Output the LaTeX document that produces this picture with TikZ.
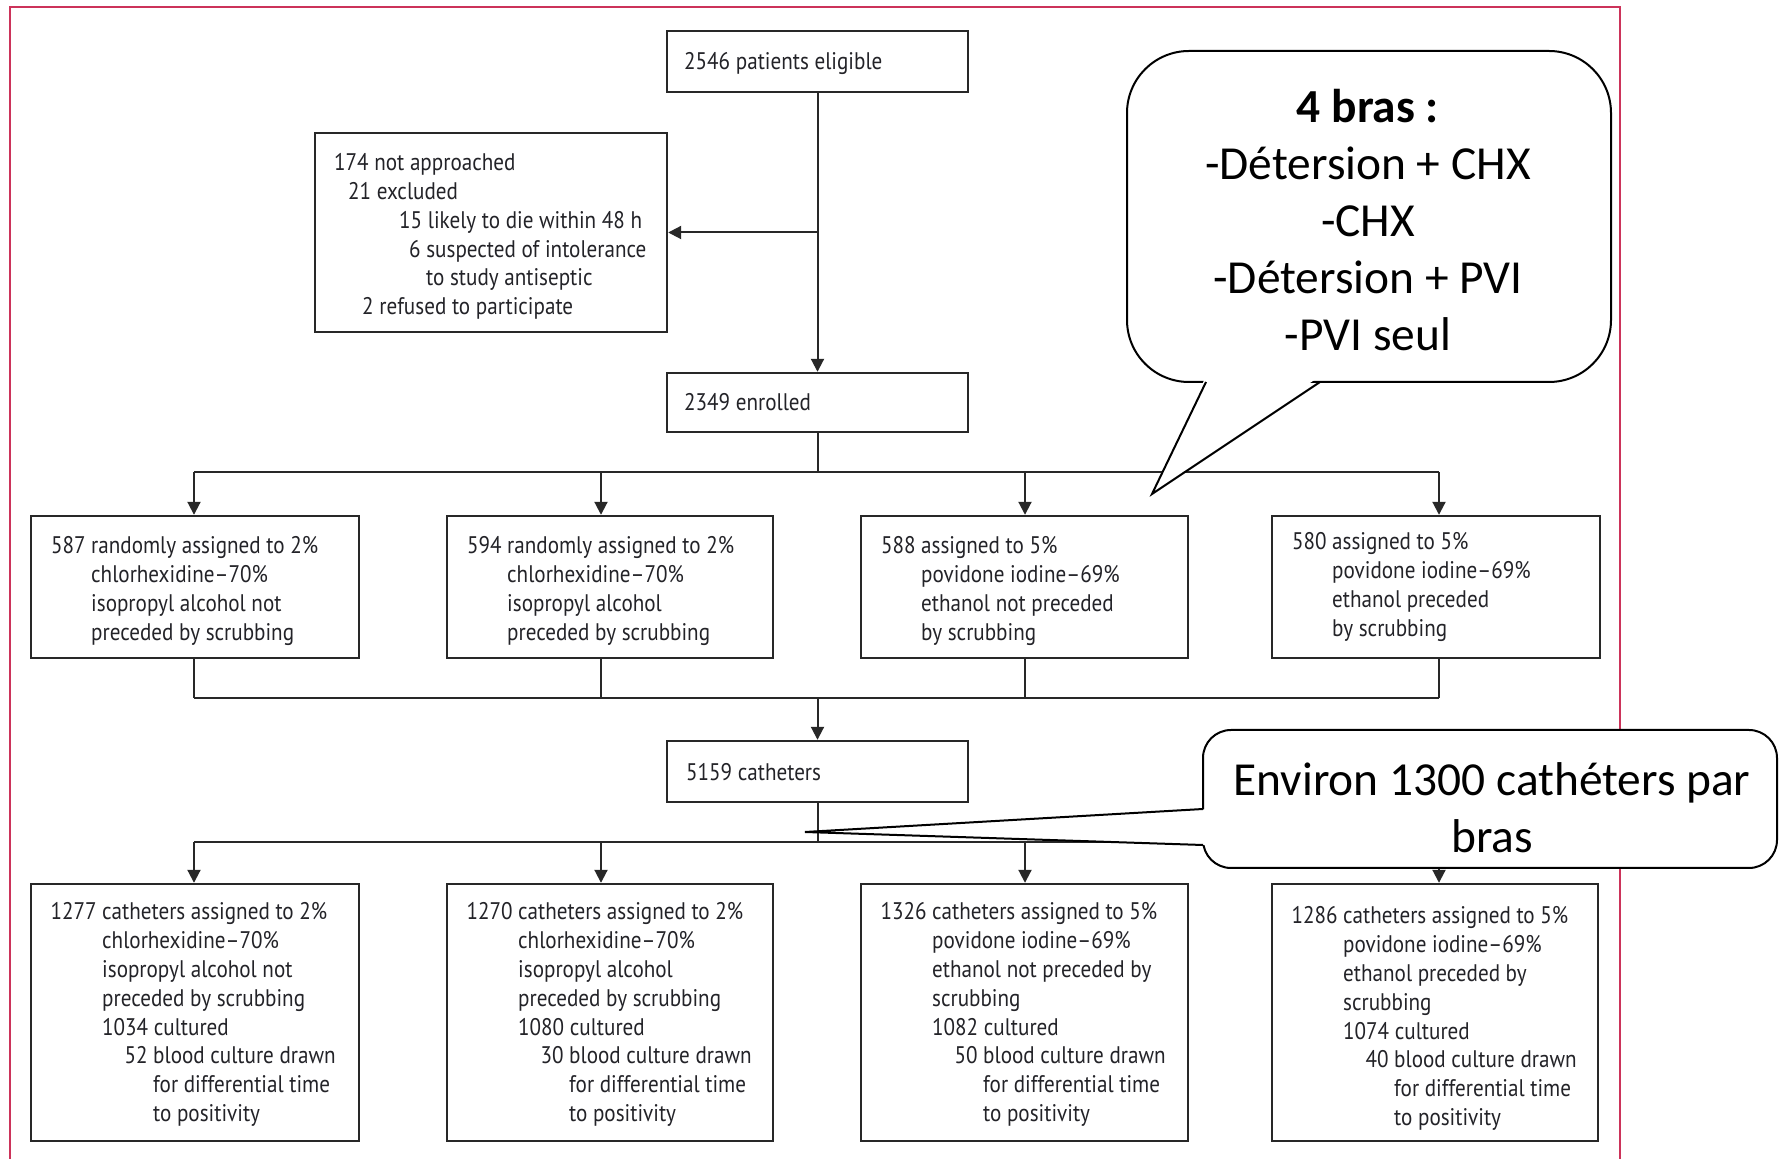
\documentclass[tikz,border=0pt]{standalone}
\usepackage{fontspec}
\setmainfont{PT Sans}
\newfontfamily\lancet[FakeStretch=0.88]{PT Sans}
\newfontfamily\calib{Carlito}
\usetikzlibrary{arrows.meta}
\definecolor{framecol}{RGB}{204,51,90}
\definecolor{boxtext}{RGB}{35,35,40}
\definecolor{boxline}{RGB}{40,40,40}
\newcommand\hangnum[1]{\llap{#1\ }}
\begin{document}
\begin{tikzpicture}[x=0.5pt,y=-0.5pt,
  flowbox/.style={draw=boxline, line width=1.2pt, fill=white, rectangle, inner sep=0pt},
  boxtxt/.style={align=left, inner sep=0pt, anchor=west, text=boxtext,
    font=\lancet\fontsize{12}{14.45}\selectfont},
  conn/.style={draw=boxline, line width=1pt},
  arr/.style={conn, -{Triangle[width=6.5pt,length=6.5pt]}},
  bubble/.style={draw=black, line width=1pt, fill=white, rectangle},
  bubbletext/.style={font=\calib\fontsize{23.7}{28.5}\selectfont, align=center, text=black, inner sep=0pt}
]
\useasboundingbox (0,0) rectangle (1779,1159);
\fill[white] (0,0) rectangle (1779,1159);
% red frame
\draw[framecol, line width=1.3pt] (10,7) rectangle (1620,1185);

% boxes
\node[flowbox, minimum width=150.5pt, minimum height=30.5pt] (top) at (817.5,61.5) {};
\node[boxtxt] (topt) at ([xshift=9pt,yshift=-1pt]top.west) {2546 patients eligible};

\node[flowbox, minimum width=176pt, minimum height=99.5pt] (excl) at (491,232.5) {};
\node[boxtxt] (exclt) at ([xshift=10pt,yshift=-2pt]excl.west) {174 not approached\\
\hspace*{7pt}21 excluded\\
\hspace*{32.5pt}15 likely to die within 48 h\\
\hspace*{37.5pt}6 suspected of intolerance\\
\hspace*{46pt}to study antiseptic\\
\hspace*{14pt}2 refused to participate};

\node[flowbox, minimum width=150.5pt, minimum height=29.5pt] (enr) at (817.5,402.5) {};
\node[boxtxt] (enrt) at ([xshift=9pt]enr.west) {2349 enrolled};

% row 2
\node[flowbox, minimum width=164pt, minimum height=71pt] (a1) at (195,587) {};
\node[flowbox, minimum width=163pt, minimum height=71pt] (a2) at (610,587) {};
\node[flowbox, minimum width=163.5pt, minimum height=71pt] (a3) at (1024.5,587) {};
\node[flowbox, minimum width=164pt, minimum height=71pt] (a4) at (1436,587) {};
\node[boxtxt] (a1t) at ([xshift=10pt,yshift=-2pt]a1.west) {\hspace*{20.5pt}\hangnum{587}randomly assigned to 2\%\\
\hspace*{20.5pt}chlorhexidine–70\%\\
\hspace*{20.5pt}isopropyl alcohol not\\
\hspace*{20.5pt}preceded by scrubbing};
\node[boxtxt] (a2t) at ([xshift=10pt,yshift=-2pt]a2.west) {\hspace*{20.5pt}\hangnum{594}randomly assigned to 2\%\\
\hspace*{20.5pt}chlorhexidine–70\%\\
\hspace*{20.5pt}isopropyl alcohol\\
\hspace*{20.5pt}preceded by scrubbing};
\node[boxtxt] (a3t) at ([xshift=10pt,yshift=-2pt]a3.west) {\hspace*{20.5pt}\hangnum{588}assigned to 5\%\\
\hspace*{20.5pt}povidone iodine–69\%\\
\hspace*{20.5pt}ethanol not preceded\\
\hspace*{20.5pt}by scrubbing};
\node[boxtxt] (a4t) at ([xshift=10pt,yshift=0pt]a4.west) {\hspace*{20.5pt}\hangnum{580}assigned to 5\%\\
\hspace*{20.5pt}povidone iodine–69\%\\
\hspace*{20.5pt}ethanol preceded\\
\hspace*{20.5pt}by scrubbing};

\node[flowbox, minimum width=150.5pt, minimum height=30.5pt] (cat) at (817.5,771.5) {};
\node[boxtxt] (catt) at ([xshift=10pt,yshift=-0.5pt]cat.west) {5159 catheters};

% row 3
\node[flowbox, minimum width=164pt, minimum height=128.5pt] (c1) at (195,1012.5) {};
\node[flowbox, minimum width=163pt, minimum height=128.5pt] (c2) at (610,1012.5) {};
\node[flowbox, minimum width=163.5pt, minimum height=128.5pt] (c3) at (1024.5,1012.5) {};
\node[flowbox, minimum width=163pt, minimum height=128.5pt] (c4) at (1435,1012.5) {};
\node[boxtxt] (c1t) at ([xshift=10pt,yshift=-1pt]c1.west) {\hspace*{26pt}\hangnum{1277}catheters assigned to 2\%\\
\hspace*{26pt}chlorhexidine–70\%\\
\hspace*{26pt}isopropyl alcohol not\\
\hspace*{26pt}preceded by scrubbing\\
\hspace*{26pt}1034 cultured\\
\hspace*{51.5pt}\hangnum{52}blood culture drawn\\
\hspace*{51.5pt}for differential time\\
\hspace*{51.5pt}to positivity};
\node[boxtxt] (c2t) at ([xshift=10pt,yshift=-1pt]c2.west) {\hspace*{26pt}\hangnum{1270}catheters assigned to 2\%\\
\hspace*{26pt}chlorhexidine–70\%\\
\hspace*{26pt}isopropyl alcohol\\
\hspace*{26pt}preceded by scrubbing\\
\hspace*{26pt}1080 cultured\\
\hspace*{51.5pt}\hangnum{30}blood culture drawn\\
\hspace*{51.5pt}for differential time\\
\hspace*{51.5pt}to positivity};
\node[boxtxt] (c3t) at ([xshift=10pt,yshift=-1pt]c3.west) {\hspace*{26pt}\hangnum{1326}catheters assigned to 5\%\\
\hspace*{26pt}povidone iodine–69\%\\
\hspace*{26pt}ethanol not preceded by\\
\hspace*{26pt}scrubbing\\
\hspace*{26pt}1082 cultured\\
\hspace*{51.5pt}\hangnum{50}blood culture drawn\\
\hspace*{51.5pt}for differential time\\
\hspace*{51.5pt}to positivity};
\node[boxtxt] (c4t) at ([xshift=10pt,yshift=-3pt]c4.west) {\hspace*{26pt}\hangnum{1286}catheters assigned to 5\%\\
\hspace*{26pt}povidone iodine–69\%\\
\hspace*{26pt}ethanol preceded by\\
\hspace*{26pt}scrubbing\\
\hspace*{26pt}1074 cultured\\
\hspace*{51.5pt}\hangnum{40}blood culture drawn\\
\hspace*{51.5pt}for differential time\\
\hspace*{51.5pt}to positivity};

% connectors
\draw[arr] (top) -- (enr);
\draw[arr] (top.south |- excl.east) -- (excl.east);

\coordinate (j1) at (817.5,472);
\coordinate (l1) at (194,472);
\coordinate (m1) at (601,472);
\coordinate (n1) at (1025,472);
\coordinate (r1) at (1439,472);
\draw[conn] (enr.south) -- (j1);
\draw[conn] (l1) -- (r1);
\draw[arr] (l1) -- (l1 |- a1.north);
\draw[arr] (m1) -- (m1 |- a2.north);
\draw[arr] (n1) -- (n1 |- a3.north);
\draw[arr] (r1) -- (r1 |- a4.north);

\coordinate (j2) at (817.5,698);
\coordinate (l2) at (194,698);
\coordinate (m2) at (601,698);
\coordinate (n2) at (1025,698);
\coordinate (r2) at (1439,698);
\draw[conn] (l1 |- a1.south) -- (l2);
\draw[conn] (m1 |- a2.south) -- (m2);
\draw[conn] (n1 |- a3.south) -- (n2);
\draw[conn] (r1 |- a4.south) -- (r2);
\draw[conn] (l2) -- (r2);
\draw[arr] (j2) -- (cat.north);

\coordinate (j3) at (817.5,842);
\coordinate (l3) at (194,842);
\coordinate (m3) at (601,842);
\coordinate (n3) at (1025,842);
\coordinate (r3) at (1439,842);
\draw[conn] (cat.south) -- (j3);
\draw[conn] (l3) -- (r3);
\draw[arr] (l3) -- (l3 |- c1.north);
\draw[arr] (m3) -- (m3 |- c2.north);
\draw[arr] (n3) -- (n3 |- c3.north);
\draw[arr] (r3) -- (r3 |- c4.north);

% callout 1
\node[bubble, rounded corners=31pt, minimum width=242pt, minimum height=165.5pt] (call1) at (1369,216.5) {};
\coordinate (p1a) at (1206,382);
\coordinate (p1b) at (1320,382);
\coordinate (p1tip) at (1152,494);
\fill[white] (1206,376) -- (p1tip) -- (1320,376) -- cycle;
\draw[line width=1pt, line join=miter] (p1a) -- (p1tip) -- (p1b);
\node[bubbletext] (call1t) at (1368,220) {\textbf{4 bras :}\\-Détersion + CHX\\-CHX\\-Détersion + PVI\\-PVI seul};

% callout 2
\node[bubble, rounded corners=14pt, minimum width=287pt, minimum height=69pt] (call2) at (1490,799) {};
\coordinate (p2a) at (1203,809);
\coordinate (p2b) at (1203,845);
\coordinate (p2tip) at (805,832);
\fill[white] (1209,809) -- (p2tip) -- (1209,845) -- cycle;
\draw[line width=1pt, line join=miter] (p2a) -- (p2tip) -- (p2b);
\node[bubbletext] (call2t) at (1492,807.5) {Environ 1300 cathéters par\\bras};
\end{tikzpicture}
\end{document}
